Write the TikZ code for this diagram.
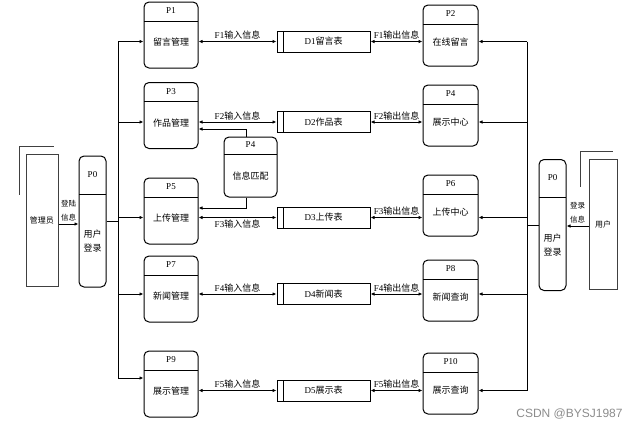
\documentclass[tikz,border=0pt]{standalone}
\usepackage{fontspec}
\setmainfont{Liberation Serif}
\newfontfamily\cjk{Noto Sans CJK SC}
\newfontfamily\wmfont{Liberation Sans}
\usetikzlibrary{arrows.meta}
\newcommand{\zh}[1]{{\cjk #1}}

\tikzset{
  >={Latex[length=4pt,width=3.5pt]},
  ptitle/.style={anchor=center, font=\fontsize{9}{10}\selectfont},
  pname/.style={anchor=center, align=center, font=\cjk\fontsize{9}{14}\selectfont},
  procbox/.style n args={4}{draw, line width=1pt, rounded corners=5pt,
    path picture={\draw[line width=1pt] ([yshift=-#3]path picture bounding box.north west) -- ([yshift=-#3]path picture bounding box.north east);},
    label={[ptitle, yshift=-#3/2]north:#1}, label={[pname, yshift=#4]south:#2}},
  lproc/.style 2 args={procbox={#1}{#2}{19pt}{26pt}, minimum width=54pt, minimum height=66pt},
  rproc/.style 2 args={procbox={#1}{#2}{19pt}{24pt}, minimum width=55pt, minimum height=61pt},
  login/.style={procbox={P0}{用户\\登录}{38pt}{46pt}, minimum width=27pt, minimum height=131pt},
  store/.style={draw, line width=1pt, minimum width=93pt, minimum height=21pt, font=\fontsize{9}{10}\selectfont,
    path picture={\draw[line width=1pt] ([xshift=6pt]path picture bounding box.north west) -- ([xshift=6pt]path picture bounding box.south west);}},
  entity/.style={draw=black!75, line width=1pt, font=\cjk\fontsize{8}{9}\selectfont},
  flow/.style={font=\fontsize{9}{10}\selectfont, above=1.5pt},
  side/.style={font=\cjk\fontsize{7.5}{14}\selectfont, align=center, above=2pt},
}

\begin{document}
\begin{tikzpicture}[x=10pt, y=10pt, line width=0.8pt]
\tikzstyle{every node}+=[inner sep=0pt]
\useasboundingbox (0,0) rectangle (63.8,-42.9);
% external entities
\node[entity, minimum width=32pt, minimum height=132pt] (adm) at (4.2,-22) {管理员};
\node[entity, minimum width=28pt, minimum height=130pt] (usr) at (60.3,-22.4) {用户};
\draw[black!75] ([xshift=-6pt,yshift=-41pt]adm.north west) |- ([xshift=-5pt,yshift=7pt]adm.north east);
\draw[black!75] ([xshift=-8pt,yshift=-28pt]usr.north west) |- ([xshift=-5pt,yshift=7pt]usr.north east);
% login
\node[login] (p0l) at (9.25,-22.15) {};
\node[login] (p0r) at (55.25,-22.5) {};
% processes
\node[lproc={P1}{留言管理}] (p1) at (17.1,-3.5) {};
\node[lproc={P3}{作品管理}] (p3) at (17.1,-11.55) {};
\node[lproc={P5}{上传管理}] (p5) at (17.1,-21.1) {};
\node[lproc={P7}{新闻管理}] (p7) at (17.1,-28.9) {};
\node[lproc={P9}{展示管理}] (p9) at (17.1,-38.4) {};
\node[rproc={P2}{在线留言}] (p2) at (45.05,-3.55) {};
\node[rproc={P4}{展示中心}] (p4) at (45.05,-11.55) {};
\node[rproc={P6}{上传中心}] (p6) at (45.05,-20.55) {};
\node[rproc={P8}{新闻查询}] (p8) at (45.05,-29.05) {};
\node[rproc={P10}{展示查询}] (p10) at (45.05,-38.35) {};
\node[procbox={P4}{信息匹配}{17pt}{21pt}, minimum width=53pt, minimum height=60pt] (p4m) at (25.05,-16.7) {};
% data stores
\node[store] (d1) at (32.35,-4.15) {D1\zh{留言表}};
\node[store] (d2) at (32.35,-12.2) {D2\zh{作品表}};
\node[store] (d3) at (32.35,-21.75) {D3\zh{上传表}};
\node[store] (d4) at (32.35,-29.4) {D4\zh{新闻表}};
\node[store] (d5) at (32.35,-39.05) {D5\zh{展示表}};
% flows
\draw[<->] (p1.east |- d1) -- (d1.west) node[flow, midway] {F1\zh{输入信息}};
\draw[<->] (d1.east) -- (p2.west |- d1) node[flow, midway] {F1\zh{输出信息}};
\draw[<->] (p3.east |- d2) -- (d2.west) node[flow, midway] {F2\zh{输入信息}};
\draw[<->] (d2.east) -- (p4.west |- d2) node[flow, midway] {F2\zh{输出信息}};
\draw[<->] (p5.east |- d3) -- (d3.west) node[flow, midway, below=3pt] {F3\zh{输入信息}};
\draw[<->] (d3.east) -- (p6.west |- d3) node[flow, midway] {F3\zh{输出信息}};
\draw[<->] (p7.east |- d4) -- (d4.west) node[flow, midway] {F4\zh{输入信息}};
\draw[<->] (d4.east) -- (p8.west |- d4) node[flow, midway] {F4\zh{输出信息}};
\draw[<->] (p9.east |- d5) -- (d5.west) node[flow, midway] {F5\zh{输入信息}};
\draw[<->] (d5.east) -- (p10.west |- d5) node[flow, midway] {F5\zh{输出信息}};
% matching
\draw[->] ([xshift=-4.5pt]p4m.north) |- ([yshift=-13.5pt]p3.east);
\draw[->] ([xshift=-4.5pt]p4m.south) |- ([yshift=3pt]p5.east);
% login arrows
\draw[->] ([yshift=-4pt]adm.east) -- ([yshift=-4pt]adm.east -| p0l.west) node[side, midway] {登陆\\信息};
\draw[->] ([yshift=-2pt]usr.west) -- ([yshift=-2pt]usr.west -| p0r.east) node[side, midway] {登录\\信息};
% trunks
\coordinate (lt) at (11.8,-4.15);
\coordinate (rt) at (52.7,-4.15);
\draw (p0l.east) -- (p0l.east -| lt);
\draw[->] (lt) -- (lt -| p1.west);
\draw[->] (lt) |- ([yshift=6pt]p9.west);
\draw[->] (lt |- d2) -- (p3.west |- d2);
\draw[->] (lt |- d3) -- (p5.west |- d3);
\draw[->] (lt |- d4) -- (p7.west |- d4);
\draw (p0r.west) -- (p0r.west -| rt);
\draw[->] (rt) -- (rt -| p2.east);
\draw[->] (rt) |- (p10.east |- d5);
\draw[->] (rt |- d2) -- (p4.east |- d2);
\draw[->] (rt |- d3) -- (p6.east |- d3);
\draw[->] (rt |- d4) -- (p8.east |- d4);
\node[font=\wmfont\fontsize{12}{12}\selectfont, text=black!45, anchor=east] (wm) at (62.3,-41.4) {CSDN @BYSJ1987};
\end{tikzpicture}
\end{document}
